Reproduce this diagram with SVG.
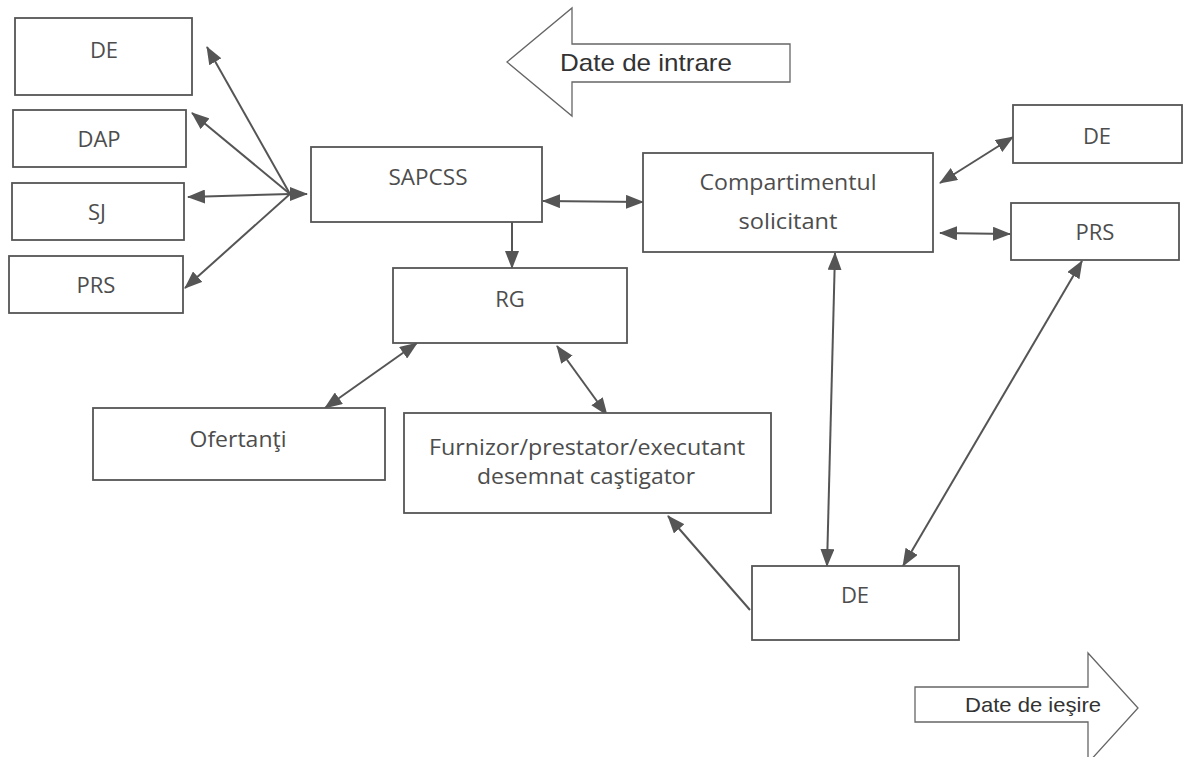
<svg xmlns="http://www.w3.org/2000/svg" width="1184" height="757" viewBox="0 0 1184 757">
<defs>
<marker id="ah" markerUnits="userSpaceOnUse" markerWidth="18" markerHeight="14" refX="17" refY="7" orient="auto-start-reverse" viewBox="0 0 18 14">
<path d="M0,0 L18,7 L0,14 z" fill="#555"/>
</marker>
<style>
.box{fill:#fff;stroke:#555;stroke-width:1.8}
.lbl{font-family:"Open Sans","Noto Sans","DejaVu Sans",sans-serif;font-size:22px;fill:#4d4d4d;text-anchor:middle}
.con{stroke:#555;stroke-width:2;fill:none}
.both{marker-start:url(#ah);marker-end:url(#ah)}
.one{marker-end:url(#ah)}
.big{fill:#fff;stroke:#666;stroke-width:1.3}
.bigt{font-family:"Liberation Sans",Arial,sans-serif;fill:#333}
</style>
</defs>
<rect width="1184" height="757" fill="#fff"/>

<g id="connectors">
<line class="con one" x1="290" y1="194" x2="207" y2="47"/>
<line class="con one" x1="290" y1="194" x2="192" y2="113"/>
<line class="con one" x1="290" y1="194" x2="188" y2="197"/>
<line class="con one" x1="290" y1="194" x2="185" y2="288"/>
<line class="con one" x1="289" y1="194" x2="307" y2="194"/>
<line class="con both" x1="543" y1="201" x2="643" y2="202"/>
<line class="con one" x1="512" y1="222" x2="512" y2="268"/>
<line class="con both" x1="940" y1="183" x2="1013" y2="137"/>
<line class="con both" x1="940" y1="233" x2="1010" y2="234"/>
<line class="con both" x1="835" y1="253" x2="827" y2="566"/>
<line class="con both" x1="1082" y1="261" x2="903" y2="566"/>
<line class="con both" x1="417" y1="343" x2="325" y2="408"/>
<line class="con both" x1="557" y1="346" x2="607" y2="415"/>
<line class="con one" x1="750" y1="610" x2="668" y2="516"/>
</g>

<g id="n_de_left"><rect class="box" x="15" y="18" width="177" height="77"/><text class="lbl" x="104" y="58">DE</text></g>
<g id="n_dap"><rect class="box" x="13" y="110" width="173" height="57"/><text class="lbl" x="99" y="147">DAP</text></g>
<g id="n_sj"><rect class="box" x="12" y="183" width="172" height="57"/><text class="lbl" x="97" y="220">SJ</text></g>
<g id="n_prs_left"><rect class="box" x="9" y="256" width="174" height="57"/><text class="lbl" x="96" y="293">PRS</text></g>

<g id="n_sapcss"><rect class="box" x="311" y="147" width="231" height="75"/><text class="lbl" x="428" y="185" textLength="79" lengthAdjust="spacingAndGlyphs">SAPCSS</text></g>
<g id="n_rg"><rect class="box" x="393" y="268" width="234" height="75"/><text class="lbl" x="510" y="307">RG</text></g>

<g id="n_comp"><rect class="box" x="643" y="153" width="290" height="99"/>
<text class="lbl" x="788" y="190" textLength="177" lengthAdjust="spacingAndGlyphs">Compartimentul</text>
<text class="lbl" x="788" y="229" textLength="99" lengthAdjust="spacingAndGlyphs">solicitant</text></g>

<g id="n_de_right"><rect class="box" x="1013" y="105" width="169" height="58"/><text class="lbl" x="1097" y="144">DE</text></g>
<g id="n_prs_right"><rect class="box" x="1011" y="203" width="168" height="57"/><text class="lbl" x="1095" y="240">PRS</text></g>

<g id="n_ofertanti"><rect class="box" x="93" y="408" width="292" height="72"/><text class="lbl" x="238" y="447" textLength="97" lengthAdjust="spacingAndGlyphs">Ofertanţi</text></g>

<g id="n_furnizor"><rect class="box" x="404" y="413" width="367" height="100"/>
<text class="lbl" x="587" y="455" textLength="316" lengthAdjust="spacingAndGlyphs">Furnizor/prestator/executant</text>
<text class="lbl" x="586" y="484" textLength="218" lengthAdjust="spacingAndGlyphs">desemnat caştigator</text></g>

<g id="n_de_bottom"><rect class="box" x="752" y="566" width="207" height="74"/><text class="lbl" x="855" y="603">DE</text></g>

<g id="date_intrare">
<polygon class="big" points="507,62 572,8 572,44 790,44 790,82 572,82 572,116"/>
<text class="bigt" x="560" y="71" font-size="24" textLength="172" lengthAdjust="spacingAndGlyphs">Date de intrare</text>
</g>
<g id="date_iesire">
<polygon class="big" points="915,687 1088,687 1088,653 1138,708 1088,763 1088,722 915,722"/>
<text class="bigt" x="965" y="712" font-size="21" textLength="136" lengthAdjust="spacingAndGlyphs">Date de ieşire</text>
</g>
</svg>
